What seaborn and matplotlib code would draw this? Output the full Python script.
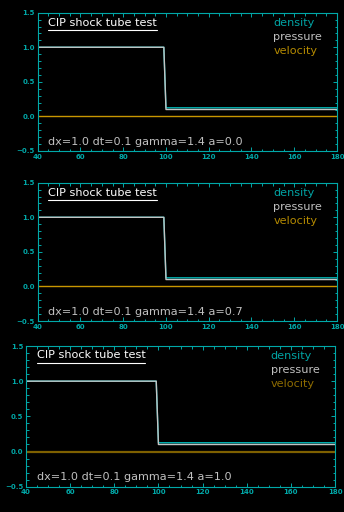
import numpy as np
import pandas as pd
import matplotlib
matplotlib.use("Agg")
import matplotlib.pyplot as plt
import seaborn as sns

# Initial state of the Sod-type shock tube (diaphragm near x = 100)
x_pts = [40, 99, 100, 180]
density = [1.0, 1.0, 0.125, 0.125]
pressure = [1.0, 1.0, 0.1, 0.1]
velocity = [0.0, 0.0, 0.0, 0.0]

a_values = [0.0, 0.7, 1.0]
title = "CIP shock tube test"
series_names = ["density", "pressure", "velocity"]

x_ticks = [40, 60, 80, 100, 120, 140, 160, 180]
y_ticks = [-0.5, 0.0, 0.5, 1.0, 1.5]

AX_COLOR = "#00a8a8"
line_colors = {"density": "#00b4b4", "pressure": "#c4c4c4", "velocity": "#c89600"}
text_colors = {"density": "#00a4a4", "pressure": "#c0c0c0", "velocity": "#b48a00"}

sns.set_theme(style="dark", rc={"axes.facecolor": "black", "figure.facecolor": "black"})
plt.rcParams["font.family"] = ["DejaVu Sans"]

fig = plt.figure(figsize=(3.44, 5.12), dpi=100, facecolor="black")

# axes rectangles in figure fractions
rects = [
    [0.1096, 0.7051, 0.8701, 0.2701],
    [0.1096, 0.3730, 0.8701, 0.2701],
    [0.0756, 0.0494, 0.8983, 0.2748],
]

df = pd.DataFrame({
    "x": x_pts * 3,
    "value": density + pressure + velocity,
    "series": sum([[s] * len(x_pts) for s in series_names], []),
})

for i, (a, rect) in enumerate(zip(a_values, rects)):
    ax = fig.add_axes(rect)
    ax.set_facecolor("black")
    last = i == 2
    vel_color = "#7e6000" if last else line_colors["velocity"]
    pal = dict(line_colors, velocity=vel_color)
    for name in ["velocity", "density", "pressure"]:
        sub = df[df["series"] == name]
        sns.lineplot(data=sub, x="x", y="value", color=pal[name], ax=ax,
                     lw=(1.6 if (last and name == "velocity") else 1.0),
                     sort=False, estimator=None, legend=False)
    ax.set_xlim(40, 180)
    ax.set_ylim(-0.5, 1.5)
    ax.set_xticks(x_ticks)
    ax.set_yticks(y_ticks)
    ax.set_xticklabels([str(t) for t in x_ticks])
    ax.set_yticklabels([f"{t:.1f}".replace("-", "\u2212") for t in y_ticks])
    ax.set_xticks(np.arange(40, 181, 5), minor=True)
    ax.set_yticks(np.arange(-0.5, 1.51, 0.1), minor=True)
    ax.set_xlabel("")
    ax.set_ylabel("")
    ax.grid(False)
    for sp in ax.spines.values():
        sp.set_visible(True)
        sp.set_color(AX_COLOR)
        sp.set_linewidth(0.8)
    ax.tick_params(which="both", direction="in", top=True, right=True,
                   bottom=True, left=True, color=AX_COLOR, width=0.7,
                   labelcolor=AX_COLOR, labelsize=5)
    ax.tick_params(which="major", length=3.2, pad=2)
    ax.tick_params(which="minor", length=1.8)
    for lab in ax.get_xticklabels() + ax.get_yticklabels():
        lab.set_fontweight("bold")

    fs = 8.1
    left_x = 0.034
    # title with underline
    tx = ax.text(left_x, 0.905 if not last else 0.915, title,
                 transform=ax.transAxes, color="white", fontsize=fs, va="baseline")
    fig.canvas.draw()
    bb = tx.get_window_extent().transformed(ax.transAxes.inverted())
    ax.plot([bb.x0, bb.x1], [bb.y0 - 0.018, bb.y0 - 0.018], transform=ax.transAxes,
            color="white", lw=0.8, clip_on=False)

    # series key on the right
    key_x = 0.787 if not last else 0.792
    key_y0 = 0.925 if not last else 0.931
    for k, name in enumerate(series_names):
        c = text_colors[name]
        if last and name == "velocity":
            c = "#8e6c00"
        ax.text(key_x, key_y0 - k * 0.101, name, transform=ax.transAxes,
                color=c, fontsize=fs, va="center")

    ax.text(left_x, 0.067, f"dx=1.0 dt=0.1 gamma=1.4 a={a:.1f}",
            transform=ax.transAxes, color="#c0c0c0", fontsize=fs, va="center")

fig.savefig("out.png", dpi=100, facecolor="black")
